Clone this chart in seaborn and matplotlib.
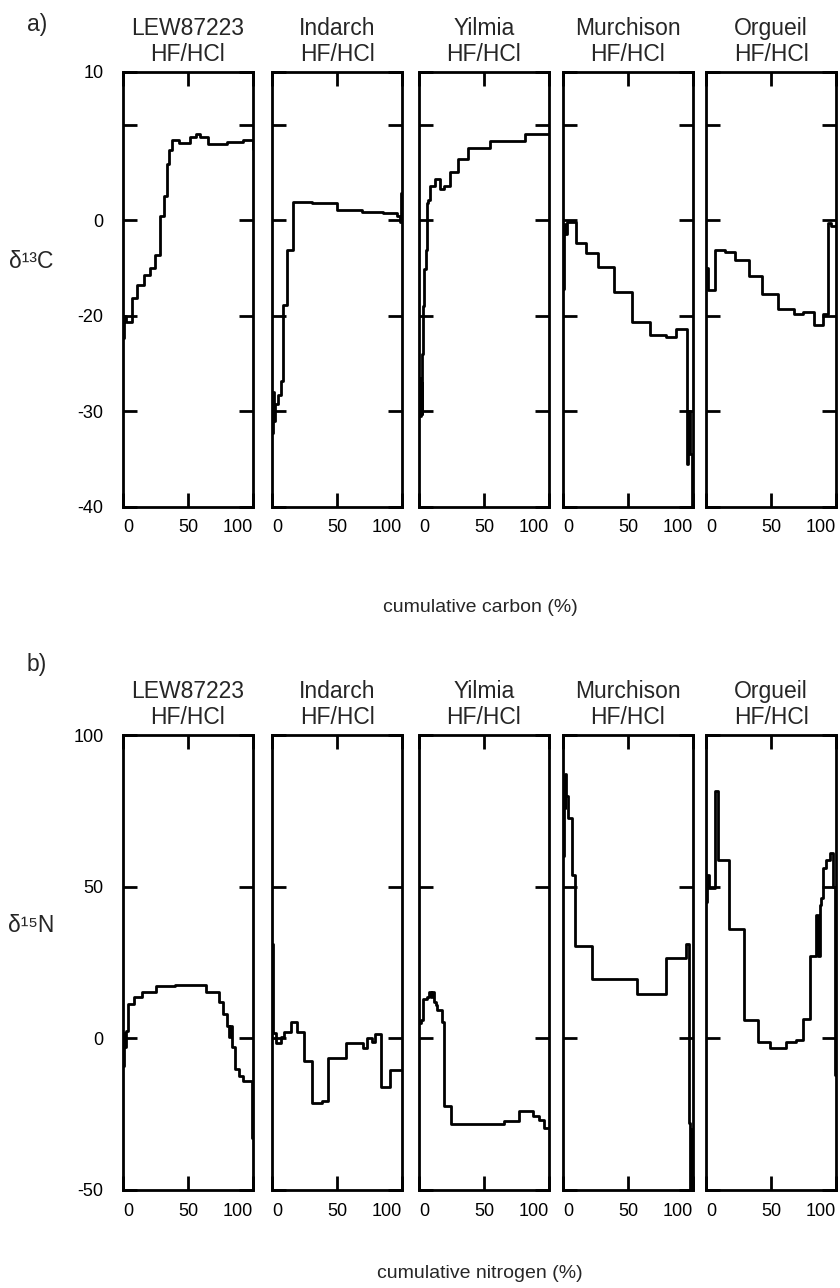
import matplotlib
matplotlib.use("Agg")
import matplotlib.pyplot as plt
import pandas as pd
import seaborn as sns

sns.set_style("ticks")
plt.rcParams["font.family"] = ["Liberation Sans", "DejaVu Sans"]

samples = ["LEW87223", "Indarch", "Yilmia", "Murchison", "Orgueil"]
treatment = "HF/HCl"

# a) stepped combustion, cumulative carbon (%) at the start of each step and d13C
lew_c_x = [0, 0.8, 2.3, 6.7, 10.8, 15.9, 20.8, 24.9, 28.7, 31.3, 33.8, 35.6, 37.4, 43.3, 51.8, 56.0, 59.5, 65.6, 80.0, 92.0, 99.5, 100]
lew_c_y = [-22.3, -20.0, -20.6, -18.1, -16.8, -15.7, -15.0, -13.6, -9.6, -7.5, -4.1, -2.7, -1.6, -1.9, -1.3, -1.0, -1.3, -2.0, -1.8, -1.6, -1.6, -2.6]
ind_c_x = [0, 0.8, 1.5, 2.3, 4.8, 6.6, 8.1, 8.6, 11.6, 16.5, 30.8, 50.3, 69.2, 85.0, 96.0, 98.5, 99.5, 100]
ind_c_y = [-32.3, -28.0, -31.0, -29.2, -28.3, -26.8, -22.7, -18.9, -13.1, -8.1, -8.2, -8.9, -9.1, -9.3, -9.6, -10.2, -7.2, -9.0]
yil_c_x = [0, 0.5, 1.0, 1.5, 2.0, 2.5, 3.0, 3.8, 5.1, 6.3, 7.1, 8.8, 12.6, 16.4, 18.9, 24.0, 30.3, 37.9, 54.3, 81.3, 100]
yil_c_y = [-29.6, -26.5, -30.5, -27.0, -30.3, -24.0, -19.0, -15.1, -13.1, -8.2, -7.9, -6.4, -5.7, -6.7, -6.4, -5.0, -3.6, -2.4, -1.7, -1.0, -1.0]
mur_c_x = [0, 0.7, 1.5, 3.3, 9.8, 17.9, 27.3, 38.9, 53.3, 67.2, 79.0, 86.6, 95.0, 96.5, 98.0, 99.3, 100]
mur_c_y = [-17.2, -10.4, -11.4, -10.2, -12.4, -13.4, -14.9, -17.5, -20.6, -22.0, -22.2, -21.4, -35.5, -30.0, -34.5, -40.0, -40.0]
org_c_x = [0, 1.5, 6.8, 14.4, 22.0, 32.8, 43.4, 55.5, 67.4, 74.5, 83.3, 90.2, 93.9, 96.5, 100]
org_c_y = [-15.0, -17.3, -13.1, -13.3, -14.2, -15.8, -17.7, -19.3, -19.8, -19.6, -21.0, -19.8, -10.3, -10.6, -10.6]

# b) cumulative nitrogen (%) and d15N
lew_n_x = [0, 0.7, 1.3, 2.2, 3.8, 8.4, 14.5, 25.5, 40.0, 63.6, 73.8, 77.0, 80.0, 81.5, 82.5, 83.5, 86.0, 89.0, 92.0, 99.5, 100]
lew_n_y = [-9.2, 1.6, -3.0, 2.5, 11.4, 13.6, 15.2, 17.4, 17.6, 15.2, 12.0, 8.0, 4.0, 0.5, 4.0, -3.0, -10.0, -12.5, -14.0, -33.0, -33.0]
ind_n_x = [0, 0.4, 0.8, 3.3, 7.1, 9.5, 14.6, 19.5, 24.6, 30.8, 38.3, 43.4, 57.1, 69.7, 73.0, 77.2, 79.5, 83.5, 91.0, 100]
ind_n_y = [31.0, 6.0, 1.6, -1.6, 0.5, 2.2, 5.4, 2.2, -7.6, -21.2, -20.7, -6.5, -1.6, -3.3, 0.0, -1.1, 1.5, -16.0, -10.5, -10.5]
yil_n_x = [0, 1.3, 3.4, 6.5, 7.7, 9.0, 10.3, 11.5, 12.8, 14.1, 18.0, 19.2, 24.4, 65.4, 76.9, 88.0, 92.0, 96.0, 100]
yil_n_y = [4.9, 6.0, 13.0, 13.6, 15.2, 13.6, 15.2, 12.0, 10.9, 9.2, 5.4, -22.3, -28.3, -27.2, -23.9, -25.5, -27.0, -29.5, -29.5]
mur_n_x = [0, 0.5, 1.2, 1.8, 2.5, 3.6, 6.9, 9.4, 22.6, 57.0, 78.9, 94.5, 97.0, 98.0, 98.8, 99.5, 100]
mur_n_y = [60.0, 84.8, 76.0, 87.0, 80.0, 72.8, 53.8, 30.4, 19.6, 14.7, 26.6, 31.0, -28.0, -50.0, -30.0, -50.0, -50.0]
org_n_x = [0, 1.0, 2.0, 7.3, 9.5, 17.4, 28.9, 40.3, 49.2, 61.5, 69.1, 74.7, 80.3, 84.4, 86.5, 87.4, 88.5, 90.0, 92.0, 95.0, 97.6, 99.0, 100]
org_n_y = [45.0, 54.0, 49.5, 81.5, 58.7, 35.9, 6.0, -1.1, -3.3, -1.1, -0.5, 6.5, 27.2, 40.8, 27.0, 44.0, 46.2, 56.0, 58.7, 61.0, 50.0, -12.0, -12.0]

carbon = [(lew_c_x, lew_c_y), (ind_c_x, ind_c_y), (yil_c_x, yil_c_y), (mur_c_x, mur_c_y), (org_c_x, org_c_y)]
nitrogen = [(lew_n_x, lew_n_y), (ind_n_x, ind_n_y), (yil_n_x, yil_n_y), (mur_n_x, mur_n_y), (org_n_x, org_n_y)]

# tick labels as printed in the original figure
c_ticks = [-40, -30, -20, -10, 0, 5.5]
c_ticklabels = ["-40", "-30", "-20", "0", "", "10"]
n_ticks = [-50, 0, 50, 100]
n_ticklabels = ["-50", "0", "50", "100"]

W, H = 840, 1288
fig = plt.figure(figsize=(W / 100, H / 100), dpi=100)
lefts = [123, 272, 419, 563, 706]
pw = 130


def panel(left, top, bottom, name, xs, ys, ylim, ticks, ticklabels, first):
    ax = fig.add_axes([left / W, 1 - bottom / H, pw / W, (bottom - top) / H])
    df = pd.DataFrame({"x": xs, "y": ys})
    sns.lineplot(data=df, x="x", y="y", ax=ax, estimator=None, sort=False,
                 drawstyle="steps-post", color="black", linewidth=2)
    ax.set_xlim(0, 100)
    ax.set_ylim(*ylim)
    ax.set_xticks([0, 50, 100])
    ax.set_xticklabels(["0", "50", "100"])
    lab = ax.get_xticklabels()
    lab[0].set_horizontalalignment("left")
    lab[2].set_horizontalalignment("right")
    ax.set_yticks(ticks)
    if first:
        ax.set_yticklabels(ticklabels)
    else:
        ax.set_yticklabels([])
    ax.tick_params(direction="in", length=10, width=2, top=True, right=True,
                   labelsize=13, colors="black")
    ax.tick_params(axis="x", pad=9)
    ax.tick_params(axis="y", pad=14)
    for s in ax.spines.values():
        s.set_linewidth(2)
        s.set_color("black")
    ax.set_xlabel("")
    ax.set_ylabel("")
    ax.set_title(f"{name}\n{treatment}", fontsize=16.5, pad=8, linespacing=1.15)
    return ax


for i, (name, (xs, ys)) in enumerate(zip(samples, carbon)):
    panel(lefts[i], 72, 507, name, xs, ys, (-40, 5.5), c_ticks, c_ticklabels, i == 0)

for i, (name, (xs, ys)) in enumerate(zip(samples, nitrogen)):
    panel(lefts[i], 735, 1190, name, xs, ys, (-50, 100), n_ticks, n_ticklabels, i == 0)

fig.text(37 / W, 1 - 25 / H, "a)", fontsize=16.5, ha="center", va="center")
fig.text(37 / W, 1 - 665 / H, "b)", fontsize=16.5, ha="center", va="center")
fig.text(31 / W, 1 - 262 / H, "δ¹³C", fontsize=16.5, ha="center", va="center")
fig.text(31 / W, 1 - 925 / H, "δ¹⁵N", fontsize=16.5, ha="center", va="center")
fig.text(480 / W, 1 - 607 / H, "cumulative carbon (%)", fontsize=14, ha="center", va="center")
fig.text(480 / W, 1 - 1274 / H, "cumulative nitrogen (%)", fontsize=14, ha="center", va="center")

fig.savefig("out.png", dpi=100)
